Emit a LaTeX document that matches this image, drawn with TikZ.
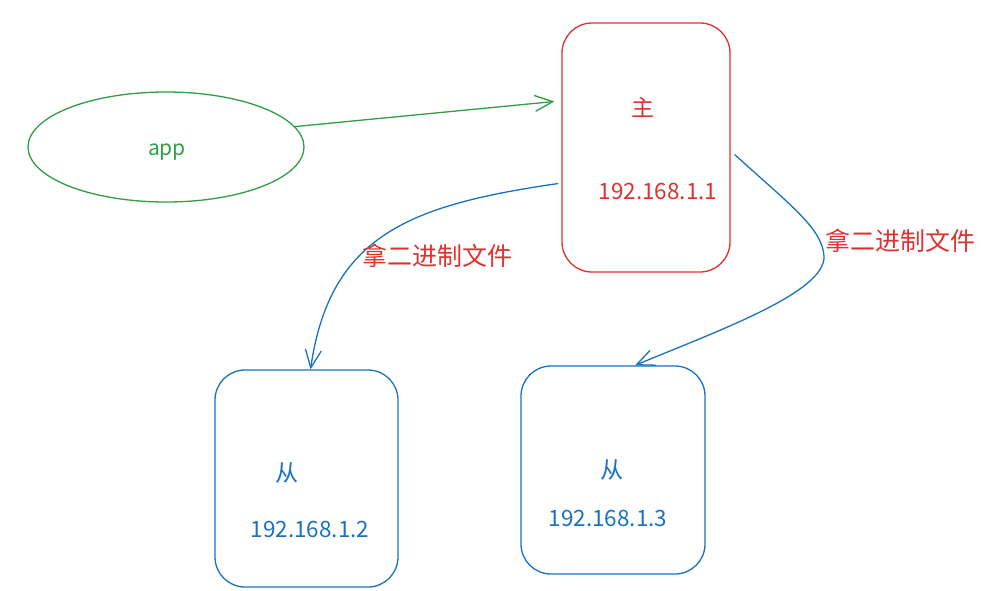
\documentclass[tikz,border=0pt]{standalone}
\usepackage{fontspec}
\setmainfont{Noto Sans CJK SC}
\usetikzlibrary{arrows.meta, shapes.geometric}

\definecolor{sketchred}{HTML}{E03131}
\definecolor{sketchgreen}{HTML}{2F9E44}
\definecolor{sketchblue}{HTML}{1971C2}

\begin{document}
\begin{tikzpicture}[
  x = 1pt, y = -1pt,
  every node/.style = {inner sep=0pt},
  server/.style = {
    draw=#1, rectangle, rounded corners=30pt, line width=1.3pt
  },
  client/.style = {
    draw=sketchgreen, ellipse, line width=1.3pt,
    minimum width=276pt, minimum height=110pt
  },
  role/.style = {text=#1, font=\fontsize{23}{27}\selectfont},
  ip/.style = {text=#1, font=\fontsize{22.5}{27}\selectfont},
  note/.style = {text=sketchred, font=\fontsize{25}{29}\selectfont},
  flow/.style = {-{Straight Barb[length=18pt, width=16pt]}, line width=1.3pt}
]

\useasboundingbox (0,0) rectangle (998,590);

\node[client] (app) at (166,147) {};
\node[text=sketchgreen, font=\fontsize{21}{25}\selectfont] (applabel) at (167,152) {app};
\node[server=sketchred, minimum width=168pt, minimum height=249pt] (master) at (646,147.5) {};
\node[server=sketchblue, minimum width=183pt, minimum height=217pt] (slaveA) at (306.5,478.5) {};
\node[server=sketchblue, minimum width=184pt, minimum height=208pt] (slaveB) at (613,470) {};

\node[role=sketchred] (mastertitle) at (643,107) {主};
\node[ip=sketchred] (masterip) at (658,191) {192.168.1.1};
\node[role=sketchblue] (slaveAtitle) at (287,473) {从};
\node[ip=sketchblue] (slaveAip) at (310,529) {192.168.1.2};
\node[role=sketchblue] (slaveBtitle) at (612,470) {从};
\node[ip=sketchblue] (slaveBip) at (608,518) {192.168.1.3};

\draw[flow, sketchgreen] (app.9) -- ([shift={(-7pt,46pt)}]master.west);

% both slaves pull the binary log from the master
\draw[flow, sketchblue] ([shift={(-3pt,-36pt)}]master.west)
  .. controls (410,205) and (330,235) .. ([xshift=4pt]slaveA.north);
\coordinate (bend) at (824,256);
\draw[flow, sketchblue] ([shift={(4pt,-7pt)}]master.east)
  .. controls (790,205) and (822,228) .. (bend)
  .. controls (826,292) and (720,330) .. ([xshift=22pt]slaveB.north);

\node[note] (pullA) at (437,256) {拿二进制文件};
\node[note] (pullB) at (900,241) {拿二进制文件};

\end{tikzpicture}
\end{document}
